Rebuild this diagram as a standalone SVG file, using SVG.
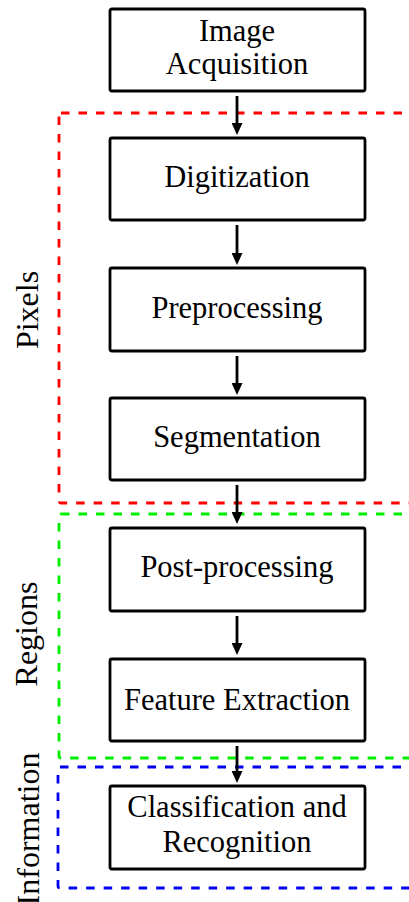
<svg xmlns="http://www.w3.org/2000/svg" width="409" height="902" viewBox="0 0 409 902">
<style>
.box{fill:#fff;stroke:#000;stroke-width:2.8}
.t{font-family:"Liberation Serif","Times New Roman",serif;font-size:30.5px;text-anchor:middle;fill:#000}
.lab{font-family:"Liberation Serif","Times New Roman",serif;font-size:32px;text-anchor:middle;fill:#000}
.reg{fill:none;stroke-width:2.8;stroke-dasharray:8.5 9}
.arr{stroke:#000;stroke-width:2.8;fill:none;marker-end:url(#ah)}
</style>
<defs>
<marker id="ah" markerWidth="12" markerHeight="11" refX="0" refY="5.5" orient="auto" markerUnits="userSpaceOnUse" viewBox="0 0 12 11">
<path d="M0,0 L12,5.5 L0,11 Z" fill="#000"/>
</marker>
</defs>
<g id="regions">
<rect id="region-pixels" class="reg" x="59" y="113" width="380" height="390" rx="2" stroke="#ff0000"/>
<rect id="region-regions" class="reg" x="59" y="514" width="380" height="244" rx="2" stroke="#00ee00"/>
<rect id="region-information" class="reg" x="58" y="767" width="380" height="121" rx="2" stroke="#0000ee"/>
</g>
<g id="labels">
<text class="lab" transform="translate(38,310) rotate(-90)">Pixels</text>
<text class="lab" transform="translate(37,634) rotate(-90)">Regions</text>
<text class="lab" transform="translate(39,829) rotate(-90)">Information</text>
</g>
<g id="connectors">
<path class="arr" d="M237,96 V123"/>
<path class="arr" d="M237,225 V253"/>
<path class="arr" d="M237,356 V383"/>
<path class="arr" d="M237,485 V512"/>
<path class="arr" d="M237,616 V643"/>
<path class="arr" d="M237,746 V771"/>
</g>
<g id="n1"><rect class="box" x="110" y="9" width="255" height="82" rx="2"/><text class="t" x="237" y="41">Image</text><text class="t" x="237" y="74">Acquisition</text></g>
<g id="n2"><rect class="box" x="110" y="138" width="255" height="82" rx="2"/><text class="t" x="237" y="187">Digitization</text></g>
<g id="n3"><rect class="box" x="110" y="268" width="255" height="83" rx="2"/><text class="t" x="237" y="318">Preprocessing</text></g>
<g id="n4"><rect class="box" x="110" y="398" width="255" height="82" rx="2"/><text class="t" x="237" y="447">Segmentation</text></g>
<g id="n5"><rect class="box" x="110" y="528" width="255" height="83" rx="2"/><text class="t" x="237" y="577">Post-processing</text></g>
<g id="n6"><rect class="box" x="110" y="659" width="255" height="82" rx="2"/><text class="t" x="237" y="710">Feature Extraction</text></g>
<g id="n7"><rect class="box" x="110" y="786" width="255" height="83" rx="2"/><text class="t" x="237" y="817">Classification and</text><text class="t" x="237" y="852">Recognition</text></g>
</svg>
